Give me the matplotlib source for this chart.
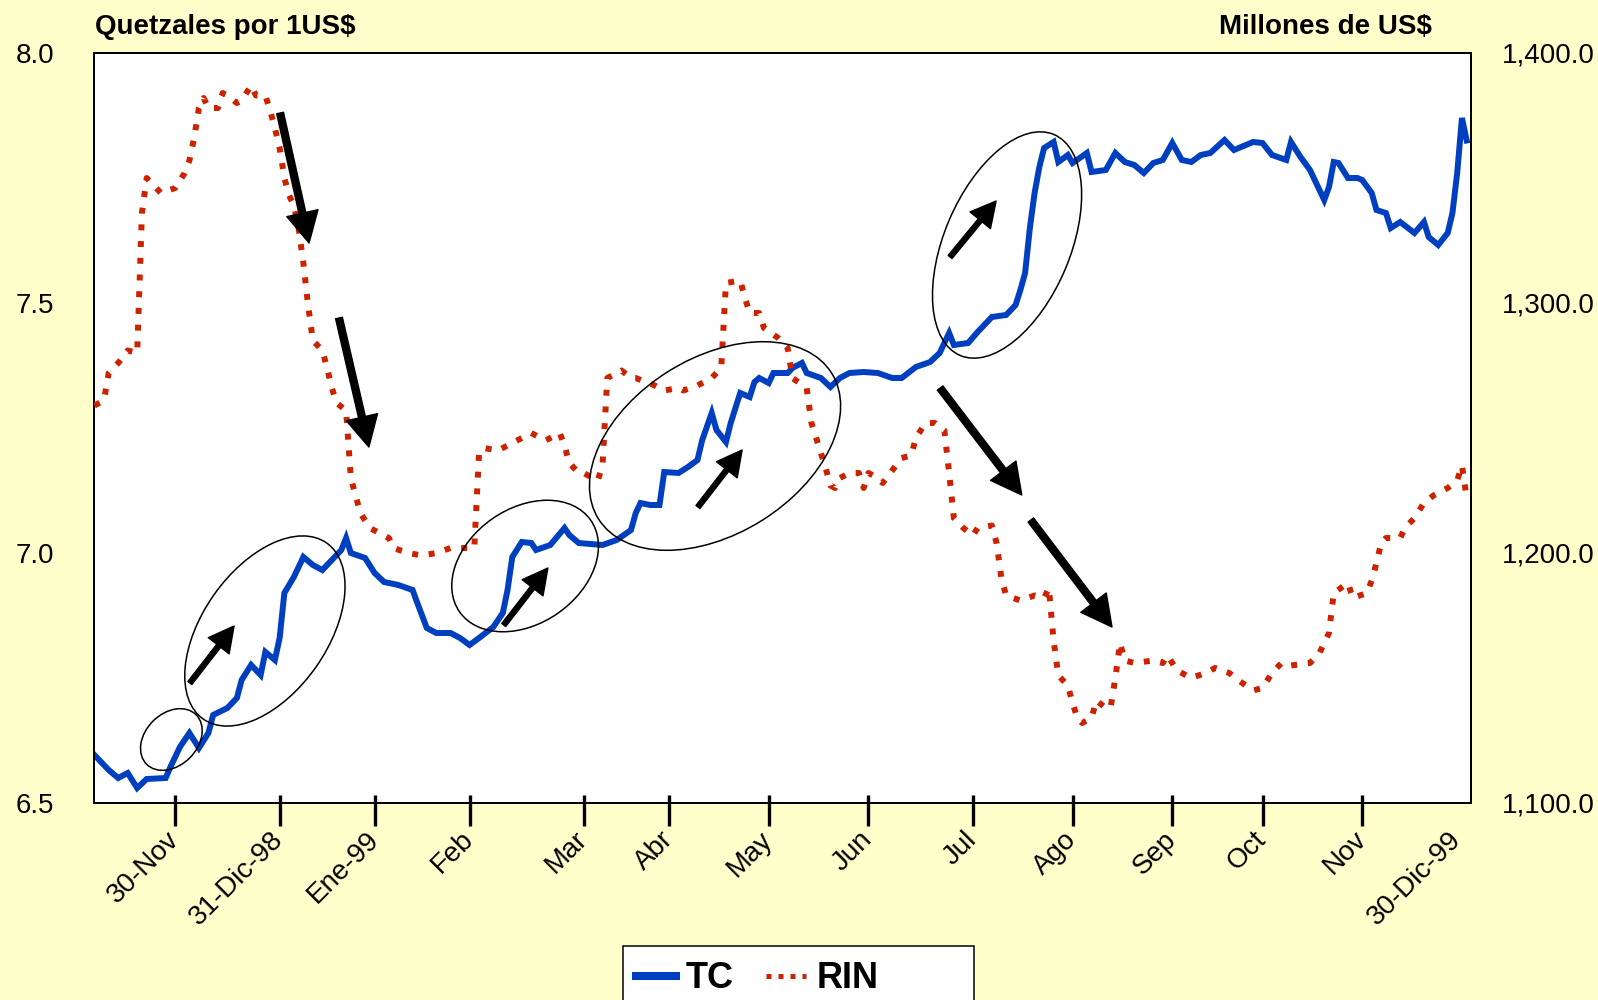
import matplotlib
matplotlib.use("Agg")
import matplotlib.pyplot as plt
from matplotlib.patches import Ellipse, Rectangle
from matplotlib.lines import Line2D
from matplotlib.transforms import ScaledTranslation
from matplotlib.ticker import FuncFormatter

plt.rcParams['font.family'] = ['Liberation Sans', 'DejaVu Sans']

# dias habiles desde inicio de noviembre 1998
tc_dia = [0, 3, 5, 7, 9, 11, 15, 16, 18, 20, 22, 24, 25, 28, 30, 31, 33, 35, 36, 38,
          39, 40, 42, 44, 46, 48, 50, 52, 53, 54, 57, 59, 61, 64, 67, 68, 70, 72, 75, 77,
          79, 81, 84, 86, 87, 88, 90, 92, 93, 96, 99, 100, 102, 107, 110, 113, 114, 115, 117, 119,
          120, 123, 125, 127, 128, 130, 131, 133, 134, 136, 138, 139, 140, 142, 143, 146, 147, 149, 150, 153,
          155, 157, 159, 162, 165, 168, 170, 173, 176, 178, 180, 181, 184, 186, 189, 192, 194, 195, 196, 197,
          198, 199, 200, 202, 203, 205, 206, 209, 210, 213, 215, 217, 219, 221, 223, 225, 227, 229, 231, 233,
          235, 238, 240, 244, 246, 248, 251, 252, 254, 256, 259, 260, 261, 262, 264, 266, 267, 269, 270, 272,
          273, 275, 278, 280, 281, 283, 285, 286, 287, 288, 289]
tc = [6.596, 6.566, 6.55, 6.56, 6.53, 6.548, 6.55, 6.572, 6.612, 6.64, 6.61, 6.64, 6.676, 6.69, 6.71, 6.746, 6.776, 6.756, 6.802, 6.786,
      6.83, 6.92, 6.952, 6.992, 6.976, 6.966, 6.986, 7.006, 7.03, 7.0, 6.99, 6.96, 6.942, 6.936, 6.926, 6.9, 6.85, 6.84, 6.84, 6.83,
      6.816, 6.83, 6.852, 6.88, 6.926, 6.992, 7.022, 7.02, 7.006, 7.016, 7.05, 7.036, 7.02, 7.016, 7.026, 7.046, 7.08, 7.1, 7.096, 7.096,
      7.162, 7.16, 7.172, 7.186, 7.226, 7.28, 7.246, 7.222, 7.26, 7.32, 7.312, 7.342, 7.35, 7.34, 7.36, 7.36, 7.37, 7.38, 7.36, 7.35,
      7.332, 7.35, 7.36, 7.362, 7.36, 7.35, 7.35, 7.372, 7.382, 7.4, 7.44, 7.416, 7.42, 7.442, 7.472, 7.476, 7.496, 7.526, 7.56, 7.65,
      7.72, 7.772, 7.81, 7.822, 7.782, 7.796, 7.78, 7.8, 7.762, 7.766, 7.8, 7.782, 7.776, 7.76, 7.78, 7.786, 7.82, 7.786, 7.782, 7.796,
      7.8, 7.826, 7.806, 7.822, 7.82, 7.796, 7.786, 7.822, 7.792, 7.766, 7.706, 7.732, 7.782, 7.78, 7.75, 7.75, 7.746, 7.72, 7.686, 7.68,
      7.65, 7.662, 7.64, 7.662, 7.632, 7.616, 7.64, 7.68, 7.76, 7.87, 7.825]

rin_dia = [0, 2, 3, 5, 7, 9, 10, 11, 12, 14, 17, 19, 20, 21, 22, 23, 24, 26, 27, 28,
           30, 31, 33, 34, 36, 37, 38, 39, 40, 41, 42, 43, 44, 45, 46, 48, 49, 50, 51, 53,
           54, 55, 56, 58, 60, 62, 63, 66, 69, 72, 75, 78, 80, 81, 82, 85, 87, 89, 92, 95,
           98, 99, 100, 102, 103, 106, 107, 108, 111, 113, 114, 118, 120, 123, 124, 127, 130, 132, 133, 136,
           137, 138, 140, 141, 144, 146, 147, 150, 151, 152, 154, 155, 156, 157, 159, 161, 162, 163, 164, 166,
           168, 170, 172, 173, 175, 177, 179, 180, 181, 183, 185, 186, 189, 190, 191, 192, 195, 198, 200, 201,
           202, 203, 205, 206, 207, 208, 210, 211, 213, 214, 215, 216, 217, 219, 223, 225, 226, 228, 231, 234,
           236, 239, 241, 244, 246, 248, 250, 252, 256, 258, 260, 261, 264, 265, 268, 269, 270, 271, 272, 275,
           276, 278, 280, 282, 285, 287, 288, 289]
rin = [1259, 1261, 1272, 1276, 1281, 1280, 1336, 1350, 1348, 1344, 1346, 1352, 1357, 1366, 1378, 1382, 1378, 1378, 1384, 1383,
       1380, 1381, 1387, 1383, 1383, 1377, 1370, 1362, 1350, 1343, 1339, 1330, 1316, 1299, 1285, 1281, 1274, 1266, 1260, 1257,
       1230, 1223, 1216, 1210, 1208, 1206, 1202, 1200, 1199, 1200, 1202, 1202, 1202, 1240, 1242, 1241, 1243, 1245, 1248, 1245,
       1248, 1243, 1236, 1232, 1232, 1229, 1235, 1270, 1273, 1270, 1270, 1267, 1265, 1266, 1265, 1267, 1270, 1274, 1308, 1309,
       1302, 1296, 1296, 1290, 1286, 1282, 1270, 1266, 1252, 1246, 1234, 1227, 1226, 1230, 1232, 1232, 1226, 1232, 1231, 1228,
       1233, 1238, 1239, 1246, 1252, 1252, 1249, 1232, 1214, 1210, 1207, 1210, 1211, 1204, 1190, 1183, 1181, 1183, 1182, 1186,
       1165, 1151, 1147, 1140, 1134, 1132, 1134, 1141, 1138, 1138, 1150, 1164, 1157, 1156, 1157, 1156, 1159, 1153, 1150, 1152,
       1154, 1152, 1149, 1145, 1146, 1152, 1156, 1155, 1156, 1160, 1168, 1184, 1188, 1182, 1184, 1189, 1196, 1204, 1206, 1206,
       1210, 1214, 1220, 1223, 1226, 1229, 1235, 1222]

meses_pos = [17, 39, 59, 79, 103, 121, 142, 163, 185, 206, 227, 246, 267, 287]
meses = ['30-Nov', '31-Dic-98', 'Ene-99', 'Feb', 'Mar', 'Abr', 'May', 'Jun',
         'Jul', 'Ago', 'Sep', 'Oct', 'Nov', '30-Dic-99']

azul = '#0040C0'
rojo = '#CC2200'
fondo = '#FFFFCC'

fig = plt.figure(figsize=(15.98, 10), dpi=100, facecolor=fondo)
ax = fig.add_axes([0.0591, 0.197, 0.8617, 0.75])
ax2 = ax.twinx()

ax.plot(tc_dia, tc, color=azul, lw=4.3, solid_joinstyle='miter', zorder=3)
ax2.plot(rin_dia, rin, color=rojo, lw=4.3, linestyle=(0, (1, 1.8)), zorder=3)

ax.set_xlim(0, 290)
ax.set_ylim(6.5, 8.0)
ax2.set_ylim(1100, 1400)
ax.set_yticks([6.5, 7.0, 7.5, 8.0])
ax2.set_yticks([1100, 1200, 1300, 1400])
ax.yaxis.set_major_formatter(FuncFormatter(lambda v, p: f'{v:.1f}'))
ax2.yaxis.set_major_formatter(FuncFormatter(lambda v, p: f'{v:,.1f}'))

ax.set_xticks(meses_pos)
ax.set_xticklabels(meses, rotation=45, ha='right', va='center', rotation_mode='anchor')
ax.tick_params(axis='x', direction='out', length=16.5, width=2.4, pad=7, labelsize=20)
ax.xaxis.get_major_ticks()[-1].tick1line.set_visible(False)
# parte interior de las marcas del eje x
ax.set_xticks(meses_pos[:-1], minor=True)
ax.xaxis.remove_overlapping_locs = False
ax.tick_params(axis='x', which='minor', direction='in', length=6, width=2.4)

ax.tick_params(axis='y', length=0, pad=29, labelsize=20)
ax2.tick_params(axis='y', length=0, pad=22, labelsize=20)

for a in (ax, ax2):
    for s in a.spines.values():
        s.set_linewidth(1.4)
ax.set_facecolor('white')

fig.text(0.0595, 0.966, 'Quetzales por 1US$', fontsize=20, fontweight='bold', va='baseline')
fig.text(0.896, 0.966, 'Millones de US$', fontsize=20, fontweight='bold', va='baseline', ha='right')

# elipses y flechas sobre el eje del tipo de cambio
elipses = [(16.2, 6.627, 0.70, 0.52, 45),
           (35.9, 6.844, 2.15, 1.25, 55),
           (90.7, 6.974, 1.60, 1.15, 35),
           (130.7, 7.214, 2.75, 1.76, 32),
           (192.2, 7.616, 2.40, 1.26, 67)]
for xc, yc, w, h, ang in elipses:
    tr = fig.dpi_scale_trans + ScaledTranslation(xc, yc, ax.transData)
    e = Ellipse((0, 0), w, h, angle=ang, fill=False, edgecolor='black', lw=1.1, transform=tr, zorder=5)
    ax2.add_artist(e)

flechas = [((39.1, 7.880), (45.2, 7.620), 'g'),
           ((51.5, 7.470), (57.8, 7.212), 'g'),
           ((20.1, 6.740), (29.4, 6.854), 'p'),
           ((86.2, 6.856), (95.5, 6.970), 'p'),
           ((127.1, 7.092), (136.4, 7.206), 'p'),
           ((180.2, 7.592), (189.9, 7.704), 'p'),
           ((178.1, 7.330), (195.3, 7.116), 'g'),
           ((197.2, 7.066), (214.3, 6.852), 'g')]
for cola, punta, t in flechas:
    if t == 'g':
        props = dict(width=5, headwidth=23, headlength=22, facecolor='black', edgecolor='black', shrink=0)
    else:
        props = dict(width=3.6, headwidth=19, headlength=18, facecolor='black', edgecolor='black', shrink=0)
    ax2.annotate('', xy=punta, xytext=cola, xycoords=ax.transData, textcoords=ax.transData,
                 arrowprops=props, zorder=6)

# leyenda
caja = Rectangle((623 / 1598, -0.05), 351 / 1598, 0.104, transform=fig.transFigure,
                 facecolor='white', edgecolor='black', lw=1.1)
fig.add_artist(caja)
manejadores = [Line2D([], [], color=azul, lw=5.8),
               Line2D([], [], color=rojo, lw=3.6, linestyle=(0, (1, 1.4)))]
fig.legend(manejadores, ['TC', 'RIN'], loc='center left', bbox_to_anchor=(636 / 1598, 0.021),
           ncol=2, frameon=False, borderpad=0, borderaxespad=0, handlelength=1.1,
           handletextpad=0.28, columnspacing=0.9,
           prop={'size': 26, 'weight': 'bold'})

fig.savefig('out.png', dpi=100, facecolor=fondo)
